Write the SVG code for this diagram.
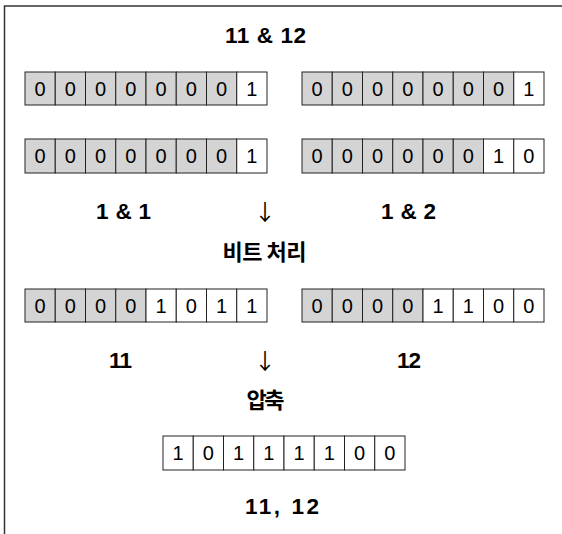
<svg xmlns="http://www.w3.org/2000/svg" width="562" height="534" viewBox="0 0 562 534">
<style>
.g{fill:#d4d4d4;stroke:#222;stroke-width:1}
.w{fill:#fff;stroke:#222;stroke-width:1}
.d{font-family:"Liberation Sans",Arial,sans-serif;font-size:20px;fill:#000;text-anchor:middle}
.lb{font-family:"Liberation Sans",Arial,sans-serif;font-size:22.5px;font-weight:bold;fill:#000;text-anchor:middle}
.ko{font-family:"Noto Sans CJK KR","Liberation Sans",sans-serif;font-size:22px;font-weight:bold;fill:#000;text-anchor:middle}
.ar{font-family:"Noto Sans CJK KR","DejaVu Sans",sans-serif;font-size:22px;fill:#000;text-anchor:middle}
.frame{fill:none;stroke:#333;stroke-width:1.5}
</style>
<rect width="562" height="534" fill="#fff"/>
<path class="frame" d="M4.5,534 V6 H562"/>

<g id="title"><text class="lb" x="265.5" y="43" textLength="81" lengthAdjust="spacing">11 &amp; 12</text></g>

<g id="row1-left">
<rect class="g" x="25" y="72" width="30.25" height="33"/><rect class="g" x="55.25" y="72" width="30.25" height="33"/><rect class="g" x="85.5" y="72" width="30.25" height="33"/><rect class="g" x="115.75" y="72" width="30.25" height="33"/><rect class="g" x="146" y="72" width="30.25" height="33"/><rect class="g" x="176.25" y="72" width="30.25" height="33"/><rect class="g" x="206.5" y="72" width="30.25" height="33"/><rect class="w" x="236.75" y="72" width="30.25" height="33"/>
<text class="d" x="40.1" y="96">0</text><text class="d" x="70.4" y="96">0</text><text class="d" x="100.6" y="96">0</text><text class="d" x="130.9" y="96">0</text><text class="d" x="161.1" y="96">0</text><text class="d" x="191.4" y="96">0</text><text class="d" x="221.6" y="96">0</text><text class="d" x="251.9" y="96">1</text>
</g>

<g id="row1-right">
<rect class="g" x="302" y="72" width="30.25" height="33"/><rect class="g" x="332.25" y="72" width="30.25" height="33"/><rect class="g" x="362.5" y="72" width="30.25" height="33"/><rect class="g" x="392.75" y="72" width="30.25" height="33"/><rect class="g" x="423" y="72" width="30.25" height="33"/><rect class="g" x="453.25" y="72" width="30.25" height="33"/><rect class="g" x="483.5" y="72" width="30.25" height="33"/><rect class="w" x="513.75" y="72" width="30.25" height="33"/>
<text class="d" x="317.1" y="96">0</text><text class="d" x="347.4" y="96">0</text><text class="d" x="377.6" y="96">0</text><text class="d" x="407.9" y="96">0</text><text class="d" x="438.1" y="96">0</text><text class="d" x="468.4" y="96">0</text><text class="d" x="498.6" y="96">0</text><text class="d" x="528.9" y="96">1</text>
</g>

<g id="row2-left">
<rect class="g" x="25" y="139" width="30.25" height="34"/><rect class="g" x="55.25" y="139" width="30.25" height="34"/><rect class="g" x="85.5" y="139" width="30.25" height="34"/><rect class="g" x="115.75" y="139" width="30.25" height="34"/><rect class="g" x="146" y="139" width="30.25" height="34"/><rect class="g" x="176.25" y="139" width="30.25" height="34"/><rect class="g" x="206.5" y="139" width="30.25" height="34"/><rect class="w" x="236.75" y="139" width="30.25" height="34"/>
<text class="d" x="40.1" y="163">0</text><text class="d" x="70.4" y="163">0</text><text class="d" x="100.6" y="163">0</text><text class="d" x="130.9" y="163">0</text><text class="d" x="161.1" y="163">0</text><text class="d" x="191.4" y="163">0</text><text class="d" x="221.6" y="163">0</text><text class="d" x="251.9" y="163">1</text>
</g>

<g id="row2-right">
<rect class="g" x="302" y="139" width="30.25" height="34"/><rect class="g" x="332.25" y="139" width="30.25" height="34"/><rect class="g" x="362.5" y="139" width="30.25" height="34"/><rect class="g" x="392.75" y="139" width="30.25" height="34"/><rect class="g" x="423" y="139" width="30.25" height="34"/><rect class="g" x="453.25" y="139" width="30.25" height="34"/><rect class="w" x="483.5" y="139" width="30.25" height="34"/><rect class="w" x="513.75" y="139" width="30.25" height="34"/>
<text class="d" x="317.1" y="163">0</text><text class="d" x="347.4" y="163">0</text><text class="d" x="377.6" y="163">0</text><text class="d" x="407.9" y="163">0</text><text class="d" x="438.1" y="163">0</text><text class="d" x="468.4" y="163">0</text><text class="d" x="498.6" y="163">1</text><text class="d" x="528.9" y="163">0</text>
</g>

<g id="label-1and1"><text class="lb" x="123.5" y="219" textLength="55" lengthAdjust="spacing">1 &amp; 1</text></g>
<g id="label-1and2"><text class="lb" x="408.5" y="219" textLength="55" lengthAdjust="spacing">1 &amp; 2</text></g>
<g id="label-bit"><text class="ko" x="264.5" y="260" textLength="84" lengthAdjust="spacing">비트 처리</text></g>

<g id="row3-left">
<rect class="g" x="25" y="289" width="30.25" height="33"/><rect class="g" x="55.25" y="289" width="30.25" height="33"/><rect class="g" x="85.5" y="289" width="30.25" height="33"/><rect class="g" x="115.75" y="289" width="30.25" height="33"/><rect class="w" x="146" y="289" width="30.25" height="33"/><rect class="w" x="176.25" y="289" width="30.25" height="33"/><rect class="w" x="206.5" y="289" width="30.25" height="33"/><rect class="w" x="236.75" y="289" width="30.25" height="33"/>
<text class="d" x="40.1" y="313">0</text><text class="d" x="70.4" y="313">0</text><text class="d" x="100.6" y="313">0</text><text class="d" x="130.9" y="313">0</text><text class="d" x="161.1" y="313">1</text><text class="d" x="191.4" y="313">0</text><text class="d" x="221.6" y="313">1</text><text class="d" x="251.9" y="313">1</text>
</g>

<g id="row3-right">
<rect class="g" x="302" y="289" width="30.25" height="33"/><rect class="g" x="332.25" y="289" width="30.25" height="33"/><rect class="g" x="362.5" y="289" width="30.25" height="33"/><rect class="g" x="392.75" y="289" width="30.25" height="33"/><rect class="w" x="423" y="289" width="30.25" height="33"/><rect class="w" x="453.25" y="289" width="30.25" height="33"/><rect class="w" x="483.5" y="289" width="30.25" height="33"/><rect class="w" x="513.75" y="289" width="30.25" height="33"/>
<text class="d" x="317.1" y="313">0</text><text class="d" x="347.4" y="313">0</text><text class="d" x="377.6" y="313">0</text><text class="d" x="407.9" y="313">0</text><text class="d" x="438.1" y="313">1</text><text class="d" x="468.4" y="313">1</text><text class="d" x="498.6" y="313">0</text><text class="d" x="528.9" y="313">0</text>
</g>

<g id="label-11"><text class="lb" x="120.5" y="368" textLength="23" lengthAdjust="spacing">11</text></g>
<g id="label-12"><text class="lb" x="409" y="368" textLength="24" lengthAdjust="spacing">12</text></g>
<g id="label-compress"><text class="ko" x="265.5" y="408" textLength="38" lengthAdjust="spacing">압축</text></g>

<g id="row-result">
<rect class="w" x="163" y="436" width="30.25" height="34"/><rect class="w" x="193.25" y="436" width="30.25" height="34"/><rect class="w" x="223.5" y="436" width="30.25" height="34"/><rect class="w" x="253.75" y="436" width="30.25" height="34"/><rect class="w" x="284" y="436" width="30.25" height="34"/><rect class="w" x="314.25" y="436" width="30.25" height="34"/><rect class="w" x="344.5" y="436" width="30.25" height="34"/><rect class="w" x="374.75" y="436" width="30.25" height="34"/>
<text class="d" x="178.1" y="460">1</text><text class="d" x="208.4" y="460">0</text><text class="d" x="238.6" y="460">1</text><text class="d" x="268.9" y="460">1</text><text class="d" x="299.1" y="460">1</text><text class="d" x="329.4" y="460">1</text><text class="d" x="359.6" y="460">0</text><text class="d" x="389.9" y="460">0</text>
</g>

<g id="label-result"><text class="lb" x="282" y="514" textLength="74" lengthAdjust="spacing">11, 12</text></g>

<g id="connectors">
<text class="ar" x="265" y="220">↓</text>
<text class="ar" x="265" y="369">↓</text>
</g>
</svg>
